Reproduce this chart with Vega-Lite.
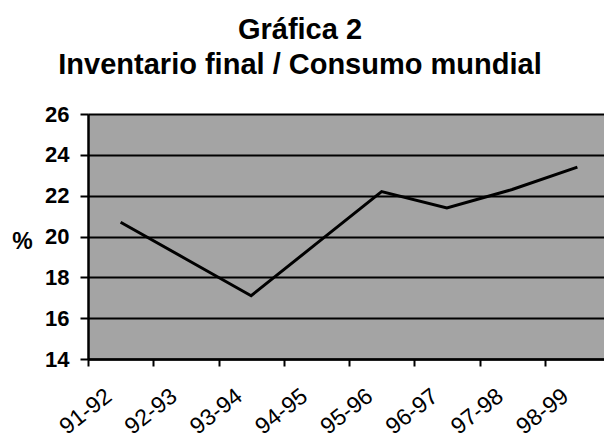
{
  "$schema": "https://vega.github.io/schema/vega-lite/v6.json",
  "width": 522,
  "height": 245,
  "autosize": {"type": "none"},
  "padding": {"left": 88, "top": 114, "right": 0, "bottom": 83},
  "background": "white",
  "title": {
    "text": ["Gráfica 2", "Inventario final / Consumo mundial"],
    "font": "Liberation Sans",
    "fontSize": 29,
    "fontWeight": "bold",
    "color": "black",
    "lineHeight": 35,
    "anchor": "middle",
    "dx": -49,
    "offset": 23
  },
  "config": {
    "view": {"fill": "#a4a4a4", "stroke": null},
    "axis": {"labelFont": "Liberation Sans", "titleFont": "Liberation Sans", "labelColor": "black", "titleColor": "black"}
  },
  "data": {
    "values": [
      {"ciclo": "91-92", "valor": 20.7},
      {"ciclo": "92-93", "valor": 18.9},
      {"ciclo": "93-94", "valor": 17.1},
      {"ciclo": "94-95", "valor": 19.65},
      {"ciclo": "95-96", "valor": 22.2},
      {"ciclo": "96-97", "valor": 21.4},
      {"ciclo": "97-98", "valor": 22.3},
      {"ciclo": "98-99", "valor": 23.4}
    ]
  },
  "mark": {"type": "line", "color": "black", "strokeWidth": 3},
  "encoding": {
    "x": {
      "field": "ciclo",
      "type": "ordinal",
      "bandPosition": 0.5,
      "scale": {"type": "band", "paddingInner": 0, "paddingOuter": 0},
      "axis": {
        "title": null,
        "tickBand": "extent",
        "domainColor": "black",
        "domainWidth": 2.5,
        "tickColor": "black",
        "tickWidth": 2,
        "tickSize": 7,
        "labelAngle": -38,
        "labelAlign": "right",
        "labelBaseline": "middle",
        "labelFontSize": 23,
        "labelFontWeight": "normal",
        "labelPadding": 27,
        "labelOffset": -12
      }
    },
    "y": {
      "field": "valor",
      "type": "quantitative",
      "scale": {"domain": [14, 26], "nice": false, "zero": false},
      "axis": {
        "values": [14, 16, 18, 20, 22, 24, 26],
        "title": "%",
        "titleAngle": 0,
        "titleAlign": "center",
        "titleBaseline": "middle",
        "titleX": -66,
        "titleY": 127,
        "titleFontSize": 23,
        "titleFontWeight": "bold",
        "grid": true,
        "gridColor": "black",
        "gridWidth": 2,
        "gridOpacity": 1,
        "domainColor": "black",
        "domainWidth": 2.5,
        "tickColor": "black",
        "tickWidth": 2,
        "tickSize": 8,
        "labelFontSize": 22,
        "labelFontWeight": "bold",
        "labelPadding": 11
      }
    }
  }
}
